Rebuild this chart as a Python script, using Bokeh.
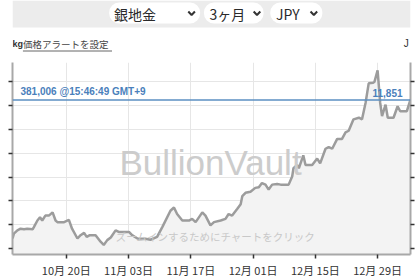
import pandas as pd
from bokeh.plotting import figure
from bokeh.layouts import column
from bokeh.models import (Range1d, FixedTicker, DatetimeTickFormatter, LinearAxis,
                          CustomJSTickFormatter, Span, Label, ColumnDataSource)
from bokeh.core.properties import value
from bokeh.embed import file_html
from bokeh.resources import INLINE

# ---------------- data ----------------
times = [
    "2025-10-07 22:00", "2025-10-08 05:00", "2025-10-09 00:00", "2025-10-09 17:00",
    "2025-10-10 12:00", "2025-10-11 05:00", "2025-10-12 10:00", "2025-10-12 17:00",
    "2025-10-13 12:00", "2025-10-14 02:00", "2025-10-14 14:00", "2025-10-15 07:00",
    "2025-10-16 02:00", "2025-10-16 22:00", "2025-10-17 14:00", "2025-10-18 00:00",
    "2025-10-19 12:00", "2025-10-20 14:00", "2025-10-21 07:00", "2025-10-22 12:00",
    "2025-10-23 05:00", "2025-10-24 00:00", "2025-10-24 14:00", "2025-10-25 07:00",
    "2025-10-26 14:00", "2025-10-27 17:00", "2025-10-28 10:00", "2025-10-29 05:00",
    "2025-10-30 00:00", "2025-10-31 02:00", "2025-10-31 19:00", "2025-11-03 02:00",
    "2025-11-03 19:00", "2025-11-05 00:00", "2025-11-06 19:00", "2025-11-07 22:00",
    "2025-11-09 10:00", "2025-11-10 14:00", "2025-11-12 10:00", "2025-11-13 05:00",
    "2025-11-13 22:00", "2025-11-15 02:00", "2025-11-16 14:00", "2025-11-17 07:00",
    "2025-11-18 02:00", "2025-11-19 14:00", "2025-11-20 07:00", "2025-11-21 10:00",
    "2025-11-22 05:00", "2025-11-23 17:00", "2025-11-24 19:00", "2025-11-25 12:00",
    "2025-11-26 07:00", "2025-11-27 10:00", "2025-11-28 05:00", "2025-11-28 14:00",
    "2025-11-29 07:00", "2025-11-30 10:00", "2025-12-01 12:00", "2025-12-02 07:00",
    "2025-12-03 00:00", "2025-12-03 19:00", "2025-12-04 12:00", "2025-12-05 07:00",
    "2025-12-06 10:00", "2025-12-07 05:00", "2025-12-09 00:00", "2025-12-09 19:00",
    "2025-12-10 02:00", "2025-12-10 22:00", "2025-12-11 07:00", "2025-12-12 07:00",
    "2025-12-12 19:00", "2025-12-14 07:00", "2025-12-15 10:00", "2025-12-16 02:00",
    "2025-12-17 07:00", "2025-12-18 00:00", "2025-12-18 19:00", "2025-12-19 22:00",
    "2025-12-21 00:00", "2025-12-21 19:00", "2025-12-22 12:00", "2025-12-23 14:00",
    "2025-12-24 19:00", "2025-12-25 12:00", "2025-12-26 07:00", "2025-12-27 00:00",
    "2025-12-28 00:00", "2025-12-28 07:00", "2025-12-29 00:00", "2025-12-29 14:00",
    "2025-12-30 00:00", "2025-12-30 19:00", "2025-12-31 07:00", "2026-01-01 14:00",
    "2026-01-02 12:00", "2026-01-03 02:00", "2026-01-04 14:00", "2026-01-05 09:00",
]
prices = [
    235400, 240500, 244000, 245700, 245100, 245700, 245100, 247400,
    254300, 257700, 254300, 259500, 259500, 262900, 254300, 252600,
    252600, 254900, 245700, 235400, 238900, 241300, 237100, 238900,
    238900, 232000, 228600, 233700, 236400, 244000, 242300, 242300,
    238900, 235400, 235100, 234100, 237100, 247400, 264600, 268000,
    261100, 254300, 254300, 256000, 252600, 262900, 259500, 249200,
    252600, 254300, 256000, 261100, 259500, 266300, 271400, 280000,
    283400, 284500, 288600, 289300, 293700, 292000, 286800, 292000,
    292700, 292000, 292000, 300600, 309200, 312600, 309200, 322800,
    312600, 312600, 319400, 314300, 329700, 331500, 329700, 340000,
    340000, 346900, 348600, 360600, 362300, 360600, 377800, 398400,
    399000, 400000, 412000, 377800, 364000, 376000, 362300, 362300,
    374300, 369100, 369100, 381006,
]
current_price = 381006
current_label = "381,006 @15:46:49 GMT+9"
right_price_label = "11,851"
x_tick_dates = ["2025-10-20", "2025-11-03", "2025-11-17", "2025-12-01", "2025-12-15", "2025-12-29"]
y_ticks = [225000, 250000, 275000, 300000, 325000, 350000, 375000, 400000]
selectors = ["銀地金", "3ヶ月", "JPY"]
unit_text = "kg"
alert_text = "価格アラートを設定"
right_cut_text = "J"
watermark = "BullionVault"
hint_text = "ズームインするためにチャートをクリック"

# axis extent
x_start, x_end = "2025-10-07 21:36", "2026-01-05 09:36"
y_min, y_max = 218600, 420300

JP = "Noto Sans CJK JP"
W, HEAD_H = 420, 62

# ---------------- header (page controls) ----------------
h = figure(width=W, height=HEAD_H, x_range=Range1d(0, W), y_range=Range1d(HEAD_H, 0),
           output_backend="svg", toolbar_location=None, title=None,
           x_axis_location=None, y_axis_location=None, min_border=0)
h.outline_line_color = None
h.grid.visible = False
h.background_fill_color = "white"
h.border_fill_color = "white"

h.quad(left=[0], right=[W], top=[0], bottom=[27], fill_color="#ececec", line_color=None)
pill_l, pill_r = [102, 202, 272], [198, 265, 327]
h.quad(left=pill_l, right=pill_r, top=[2] * 3, bottom=[23] * 3,
       fill_color="white", line_color=None, border_radius=10)
h.text(x=[107, 208, 278], y=[13] * 3, text=selectors, text_baseline="middle",
       text_font=value(JP), text_font_size="14px", text_color="#2a2a2a")
chev = [189, 258, 318]
h.multi_line(xs=[[c - 3.5, c, c + 3.5] for c in chev], ys=[[11, 14.5, 11]] * 3,
             line_color="#333333", line_width=2)
h.text(x=[0], y=[43], text=[unit_text], text_baseline="middle",
       text_font=value("Liberation Sans"), text_font_size="9px",
       text_font_style="bold", text_color="#333333")
h.text(x=[11], y=[43], text=[alert_text], text_baseline="middle",
       text_font=value(JP), text_font_size="9.5px", text_color="#444444")
h.segment(x0=[11], y0=[50.5], x1=[105], y1=[50.5], line_color="#666666", line_width=1)
h.text(x=[413], y=[43], text=[right_cut_text], text_baseline="middle",
       text_font=value("Liberation Sans"), text_font_size="10px", text_color="#333333")

# ---------------- chart ----------------
t = pd.to_datetime(times)
src = ColumnDataSource(dict(t=t, price=prices, base=[y_min] * len(prices)))

p = figure(width=W, height=280 - HEAD_H, x_axis_type="datetime", title=None,
           output_backend="svg", toolbar_location=None,
           x_range=Range1d(pd.Timestamp(x_start), pd.Timestamp(x_end)),
           y_range=Range1d(y_min, y_max),
           min_border_left=12, min_border_right=10, min_border_top=0, min_border_bottom=22)
p.outline_line_color = None
p.background_fill_color = "white"
p.border_fill_color = "white"

xt = FixedTicker(ticks=[pd.Timestamp(d).value / 1e6 for d in x_tick_dates])
yt = FixedTicker(ticks=y_ticks)
fmt = "%m月 %d日"
p.xaxis.ticker = xt
p.xaxis.formatter = DatetimeTickFormatter(days=fmt, months=fmt, years=fmt, hours=fmt,
                                          minutes=fmt, seconds=fmt, milliseconds=fmt,
                                          microseconds=fmt, minsec=fmt, hourmin=fmt)
p.yaxis.ticker = yt
p.yaxis.formatter = CustomJSTickFormatter(code="return ''")
p.xgrid.ticker = xt
p.ygrid.ticker = yt
p.grid.grid_line_color = "#e6e6e6"
p.grid.grid_line_width = 1

ry = LinearAxis(ticker=yt, formatter=CustomJSTickFormatter(code="return ''"))
p.add_layout(ry, "right")

for ax in [p.xaxis[0], p.yaxis[0], ry]:
    ax.axis_line_color = "#a8a8a8"
    ax.axis_line_width = 2
    ax.major_tick_line_color = "#333333"
    ax.major_tick_line_width = 1.5
    ax.major_tick_out = 4
    ax.major_tick_in = 0
    ax.minor_tick_line_color = None
    ax.major_label_standoff = 3
p.xaxis.major_label_text_font = JP
p.xaxis.major_label_text_font_size = "11px"
p.xaxis.major_label_text_color = "#333333"

p.varea(x="t", y1="base", y2="price", source=src, fill_color="#f3f3f3")
p.line(x="t", y="price", source=src, line_color="#9c9c9c", line_width=2.5)

p.add_layout(Label(x=198, y=92, x_units="screen", y_units="screen", text=watermark,
                   text_align="center", text_baseline="middle", text_font="Liberation Sans",
                   text_font_size="35px", text_color="#cccccc"))
p.add_layout(Label(x=203, y=18, x_units="screen", y_units="screen", text=hint_text,
                   text_align="center", text_baseline="middle", text_font=JP,
                   text_font_size="10.5px", text_color="#c8c8c8"))

p.add_layout(Span(location=current_price, dimension="width", line_color="#5b8fc2", line_width=1.5))
p.add_layout(Label(x=8, y=current_price, x_units="screen", y_units="data", text=current_label,
                   y_offset=3, text_baseline="bottom", text_font="Liberation Sans",
                   text_font_size="10px", text_font_style="bold", text_color="#4a80bb"))
p.add_layout(Label(x=390, y=current_price, x_units="screen", y_units="data", text=right_price_label,
                   y_offset=3, text_align="right", text_baseline="bottom",
                   text_font="Liberation Sans", text_font_size="10px",
                   text_font_style="bold", text_color="#4a80bb"))

layout = column(h, p, spacing=0)
open("out.html", "w").write(file_html(layout, INLINE))
